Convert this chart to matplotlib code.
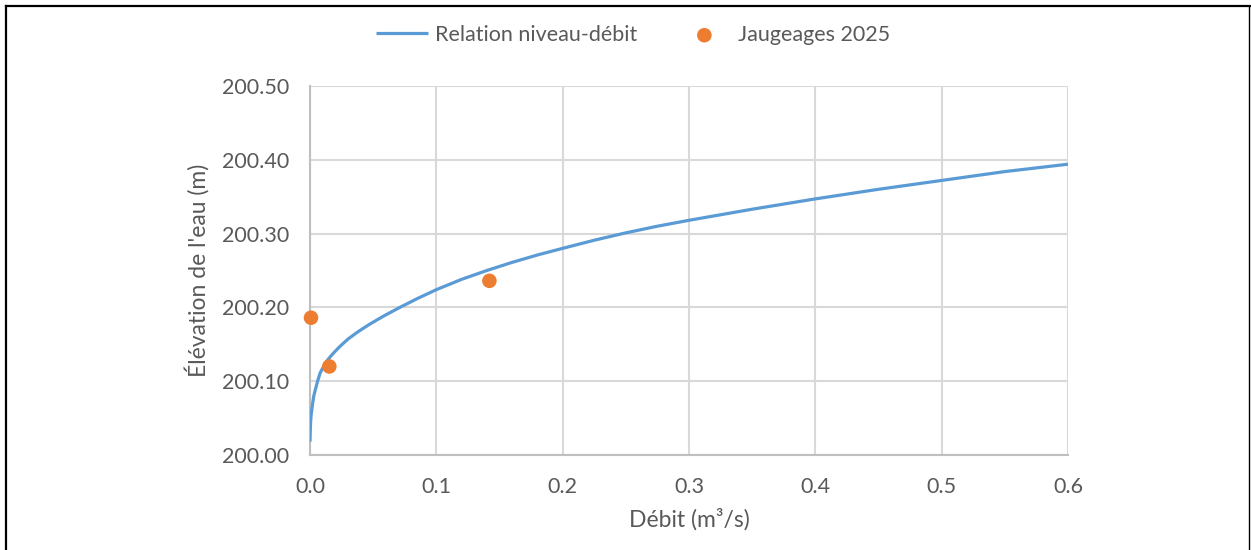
import numpy as np
import matplotlib.pyplot as plt
from matplotlib.lines import Line2D

# courbe de tarage
debit_courbe = [0.0, 0.0002, 0.0005, 0.001, 0.002, 0.003, 0.004, 0.006, 0.008, 0.011,
                0.014, 0.018, 0.023, 0.03, 0.038, 0.047, 0.058, 0.07, 0.085, 0.1,
                0.12, 0.14, 0.16, 0.18, 0.2, 0.225, 0.25, 0.275, 0.3, 0.35,
                0.4, 0.45, 0.5, 0.55, 0.6]
niveau_courbe = [200.018, 200.032, 200.045, 200.056, 200.069, 200.080, 200.087, 200.100, 200.111, 200.121,
                 200.129, 200.137, 200.146, 200.157, 200.167, 200.177, 200.188, 200.199, 200.212, 200.224,
                 200.238, 200.250, 200.261, 200.271, 200.280, 200.291, 200.301, 200.310, 200.318, 200.333,
                 200.347, 200.360, 200.372, 200.384, 200.394]

# jaugeages 2025
debit_jaug = [0.0008, 0.0153, 0.142]
niveau_jaug = [200.186, 200.120, 200.236]

xticks = [0.0, 0.1, 0.2, 0.3, 0.4, 0.5, 0.6]
yticks = [200.00, 200.10, 200.20, 200.30, 200.40, 200.50]

plt.rcParams['font.family'] = ['Lato', 'DejaVu Sans']
txt = '#595959'

fig = plt.figure(figsize=(12.51, 5.5), dpi=100)
ax = fig.add_axes([0.2478, 0.1727, 0.6059, 0.671])

ax.plot(debit_courbe, niveau_courbe, color='#5B9BD5', lw=2.3, label='Relation niveau-débit',
        solid_capstyle='butt', solid_joinstyle='round', zorder=3)
ax.scatter(debit_jaug, niveau_jaug, s=110, color='#ED7D31', label='Jaugeages 2025',
           zorder=4, clip_on=False, edgecolors='none')

ax.set_xlim(0, 0.6)
ax.set_ylim(200.0, 200.5)
ax.set_xticks(xticks)
ax.set_xticklabels(['%.1f' % v for v in xticks])
ax.set_yticks(yticks)
ax.set_yticklabels(['%.2f' % v for v in yticks])
ax.tick_params(length=0, labelsize=15.5, colors=txt)
ax.tick_params(axis='y', pad=15)
ax.tick_params(axis='x', pad=16)

ax.grid(True, color='#D9D9D9', lw=1.5)
ax.set_axisbelow(True)
for s in ['top', 'right']:
    ax.spines[s].set_visible(False)
for s in ['left', 'bottom']:
    ax.spines[s].set_color('#BFBFBF')
    ax.spines[s].set_linewidth(1.5)

ax.set_xlabel('Débit (m³/s)', fontsize=16.5, color=txt, labelpad=8)
ax.set_ylabel("Élévation de l'eau (m)", fontsize=16.5, color=txt, labelpad=9)

fig.legend(loc='upper center', bbox_to_anchor=(0.506, 0.99), ncol=2, frameon=False,
           fontsize=15.5, labelcolor=txt, columnspacing=1.9, handlelength=2.4, handletextpad=0.35)

# cadre
fig.add_artist(Line2D([0.0048, 0.0048], [0, 0.989], color='black', lw=1.6))
fig.add_artist(Line2D([0.0048, 0.9995], [0.989, 0.989], color='black', lw=1.6))
fig.add_artist(Line2D([0.9985, 0.9985], [0, 0.989], color='black', lw=1.0))

fig.savefig('out.png', dpi=100)
